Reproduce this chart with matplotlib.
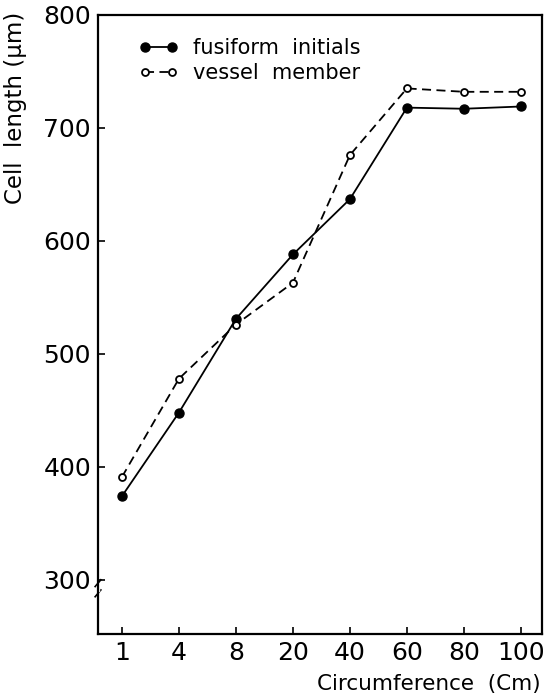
import matplotlib
matplotlib.use("Agg")
import matplotlib.pyplot as plt

categories = ["1", "4", "8", "20", "40", "60", "80", "100"]
fusiform = [374, 448, 531, 588, 637, 718, 717, 719]
vessel = [391, 478, 526, 563, 676, 735, 732, 732]
yticks = [300, 400, 500, 600, 700, 800]

plt.rcParams['font.family'] = ['DejaVu Sans']
fig = plt.figure(figsize=(5.47, 6.98), dpi=100)
ax = fig.add_axes([98/547, 1-634/698, (542-98)/547, (634-15)/698])

x = list(range(len(categories)))
ax.plot(x, fusiform, '-', color='black', lw=1.3, marker='o', ms=6.5,
        mfc='black', mec='black', label='fusiform  initials')
ax.plot(x, vessel, '--', color='black', lw=1.3, dashes=(5, 3), marker='o', ms=5,
        mfc='white', mec='black', mew=1.3, label='vessel  member')

ax.set_xlim(-0.42, 7.37)
ax.set_ylim(252, 800)
ax.set_xticks(x)
ax.set_xticklabels(categories)
ax.set_yticks(yticks)
ax.set_yticklabels([str(v) for v in yticks])
ax.tick_params(direction='in', length=5, width=1.2, labelsize=18, pad=5)
for s in ax.spines.values():
    s.set_linewidth(1.6)

# axis break marks near 300
ax.plot([-0.47, -0.37], [294, 300], color='black', lw=1.2, clip_on=False)
ax.plot([-0.47, -0.37], [285, 291], color='black', lw=1.2, clip_on=False)
ax.plot([-0.42, -0.42], [291, 294], color='white', lw=2.5, clip_on=False)

leg = ax.legend(loc='upper left', bbox_to_anchor=(0.05, 0.993), frameon=False,
                fontsize=15, numpoints=2, handlelength=1.9, handletextpad=0.7,
                labelspacing=0.25)

fig.text(541/547, 1-694/698, "Circumference  (Cm)", fontsize=15.5, ha='right', va='bottom')
fig.text(16/547, 1-108/698, "Cell  length (μm)", fontsize=16.5, rotation=90, ha='center', va='center')

fig.savefig("out.png", dpi=100)
